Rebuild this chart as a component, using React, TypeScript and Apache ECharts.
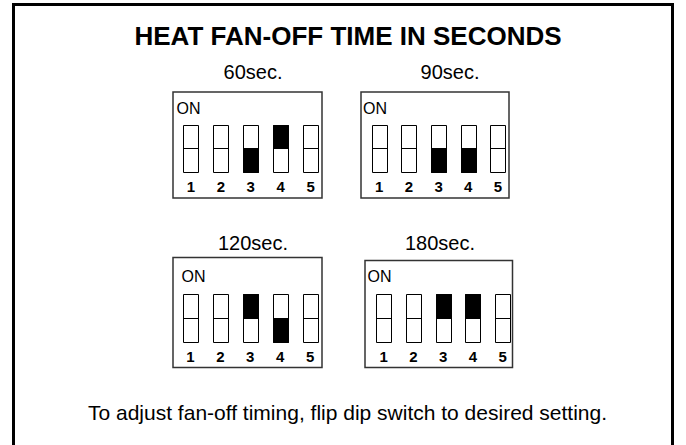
import React, { useEffect, useRef } from "react";
import * as echarts from "echarts";

// ---- data ----
const chartTitle = "HEAT FAN-OFF TIME IN SECONDS";
const footerText = "To adjust fan-off timing, flip dip switch to desired setting.";
const switchLabels = ["1", "2", "3", "4", "5"];
const settingNames = ["60sec.", "90sec.", "120sec.", "180sec."];
// slider state per switch: 1 = up (top half filled), 0 = down (bottom half filled), null = not set
const sw60 = [null, null, 0, 1, null];
const sw90 = [null, null, 0, 0, null];
const sw120 = [null, null, 1, 0, null];
const sw180 = [null, null, 1, 1, null];
const switchStates = [sw60, sw90, sw120, sw180];

// ---- layout (positions only) ----
const panels = [
  { box: { x: 173, y: 92, w: 149, h: 106 }, grid: { left: 176, top: 125, width: 149.5, height: 46.7 }, title: { x: 253, y: 72 }, on: { x: 176.5, y: 108 } },
  { box: { x: 361, y: 92, w: 148, h: 106 }, grid: { left: 364.4, top: 125, width: 148.3, height: 46.7 }, title: { x: 450, y: 72 }, on: { x: 363, y: 108 } },
  { box: { x: 173, y: 257.5, w: 149, h: 110 }, grid: { left: 175.5, top: 294, width: 149.5, height: 47.7 }, title: { x: 253, y: 243 }, on: { x: 181.5, y: 276.5 } },
  { box: { x: 365, y: 260.5, w: 147.5, h: 107 }, grid: { left: 368.8, top: 294, width: 148.8, height: 47.7 }, title: { x: 440, y: 243 }, on: { x: 367.5, y: 276.5 } },
];

const FONT = "'Liberation Sans', Arial, Helvetica, sans-serif";
const SWITCH_W = 15;

function renderSwitch(params: any, api: any) {
  const idx = api.value(0);
  const state = api.value(1);
  const top = api.coord([idx, 2]);
  const mid = api.coord([idx, 1]);
  const bot = api.coord([idx, 0]);
  const x0 = Math.round(top[0] - SWITCH_W / 2) + 0.5;
  const y0 = Math.round(top[1]) + 0.5;
  const ym = Math.round(mid[1]) + 0.5;
  const y1 = Math.round(bot[1]) + 0.5;
  const children: any[] = [
    {
      type: "rect",
      shape: { x: x0, y: y0, width: SWITCH_W, height: y1 - y0 },
      style: { fill: "#fff", stroke: "#000", lineWidth: 1 },
    },
  ];
  if (state === 1) {
    children.push({ type: "rect", shape: { x: x0, y: y0, width: SWITCH_W, height: ym - y0 }, style: { fill: "#000", stroke: "#000", lineWidth: 1 } });
  } else if (state === 0) {
    children.push({ type: "rect", shape: { x: x0, y: ym, width: SWITCH_W, height: y1 - ym }, style: { fill: "#000", stroke: "#000", lineWidth: 1 } });
  } else {
    children.push({ type: "line", shape: { x1: x0, y1: ym, x2: x0 + SWITCH_W, y2: ym }, style: { stroke: "#000", lineWidth: 1 } });
  }
  return { type: "group", children };
}

export default function App() {
  const ref = useRef<HTMLDivElement>(null);
  useEffect(() => {
    if (!ref.current) return;
    const chart = echarts.init(ref.current, null, { renderer: "svg" });

    const grids: any[] = [];
    const xAxes: any[] = [];
    const yAxes: any[] = [];
    const series: any[] = [];
    const graphics: any[] = [];

    graphics.push({
      type: "rect",
      shape: { x: 13.5, y: 4.5, width: 659, height: 470 },
      style: { fill: "#fff", stroke: "#000", lineWidth: 3 },
      z: -10,
    });
    graphics.push({
      type: "text",
      x: 348,
      y: 36,
      style: { text: chartTitle, font: `bold 26px ${FONT}`, fill: "#000", textAlign: "center", textVerticalAlign: "middle" },
    });
    graphics.push({
      type: "text",
      x: 347.5,
      y: 412,
      style: { text: footerText, font: `21px ${FONT}`, fill: "#000", textAlign: "center", textVerticalAlign: "middle" },
    });

    panels.forEach((p, i) => {
      graphics.push({
        type: "rect",
        shape: { x: p.box.x, y: p.box.y, width: p.box.w, height: p.box.h },
        style: { fill: "none", stroke: "#333", lineWidth: 1.5 },
      });
      graphics.push({
        type: "text",
        x: p.title.x,
        y: p.title.y,
        style: { text: settingNames[i], font: `20px ${FONT}`, fill: "#000", textAlign: "center", textVerticalAlign: "middle" },
      });
      graphics.push({
        type: "text",
        x: p.on.x,
        y: p.on.y,
        style: { text: "ON", font: `16px ${FONT}`, fill: "#000", textAlign: "left", textVerticalAlign: "middle" },
      });

      grids.push({ left: p.grid.left, top: p.grid.top, width: p.grid.width, height: p.grid.height, containLabel: false });
      xAxes.push({
        type: "category",
        gridIndex: i,
        data: switchLabels,
        z: 10,
        axisLine: { show: false },
        axisTick: { show: false },
        splitLine: { show: false },
        axisLabel: { color: "#000", fontFamily: FONT, fontWeight: "bold", fontSize: 15, margin: 7 },
      });
      yAxes.push({ type: "value", gridIndex: i, min: 0, max: 2, show: false, splitLine: { show: false } });

      const data = switchStates[i].map((s, j) => [j, s === null ? -1 : s]);
      series.push({
        type: "custom",
        name: settingNames[i],
        xAxisIndex: i,
        yAxisIndex: i,
        silent: true,
        clip: false,
        z: 10,
        encode: { x: 0, y: 1 },
        renderItem: renderSwitch,
        data,
      });
    });

    chart.setOption({
      animation: false,
      backgroundColor: "#fff",
      grid: grids,
      xAxis: xAxes,
      yAxis: yAxes,
      series,
      graphic: { elements: graphics },
    });

    return () => chart.dispose();
  }, []);

  return <div ref={ref} style={{ position: "fixed", left: 0, top: 0, width: 686, height: 445 }} />;
}
